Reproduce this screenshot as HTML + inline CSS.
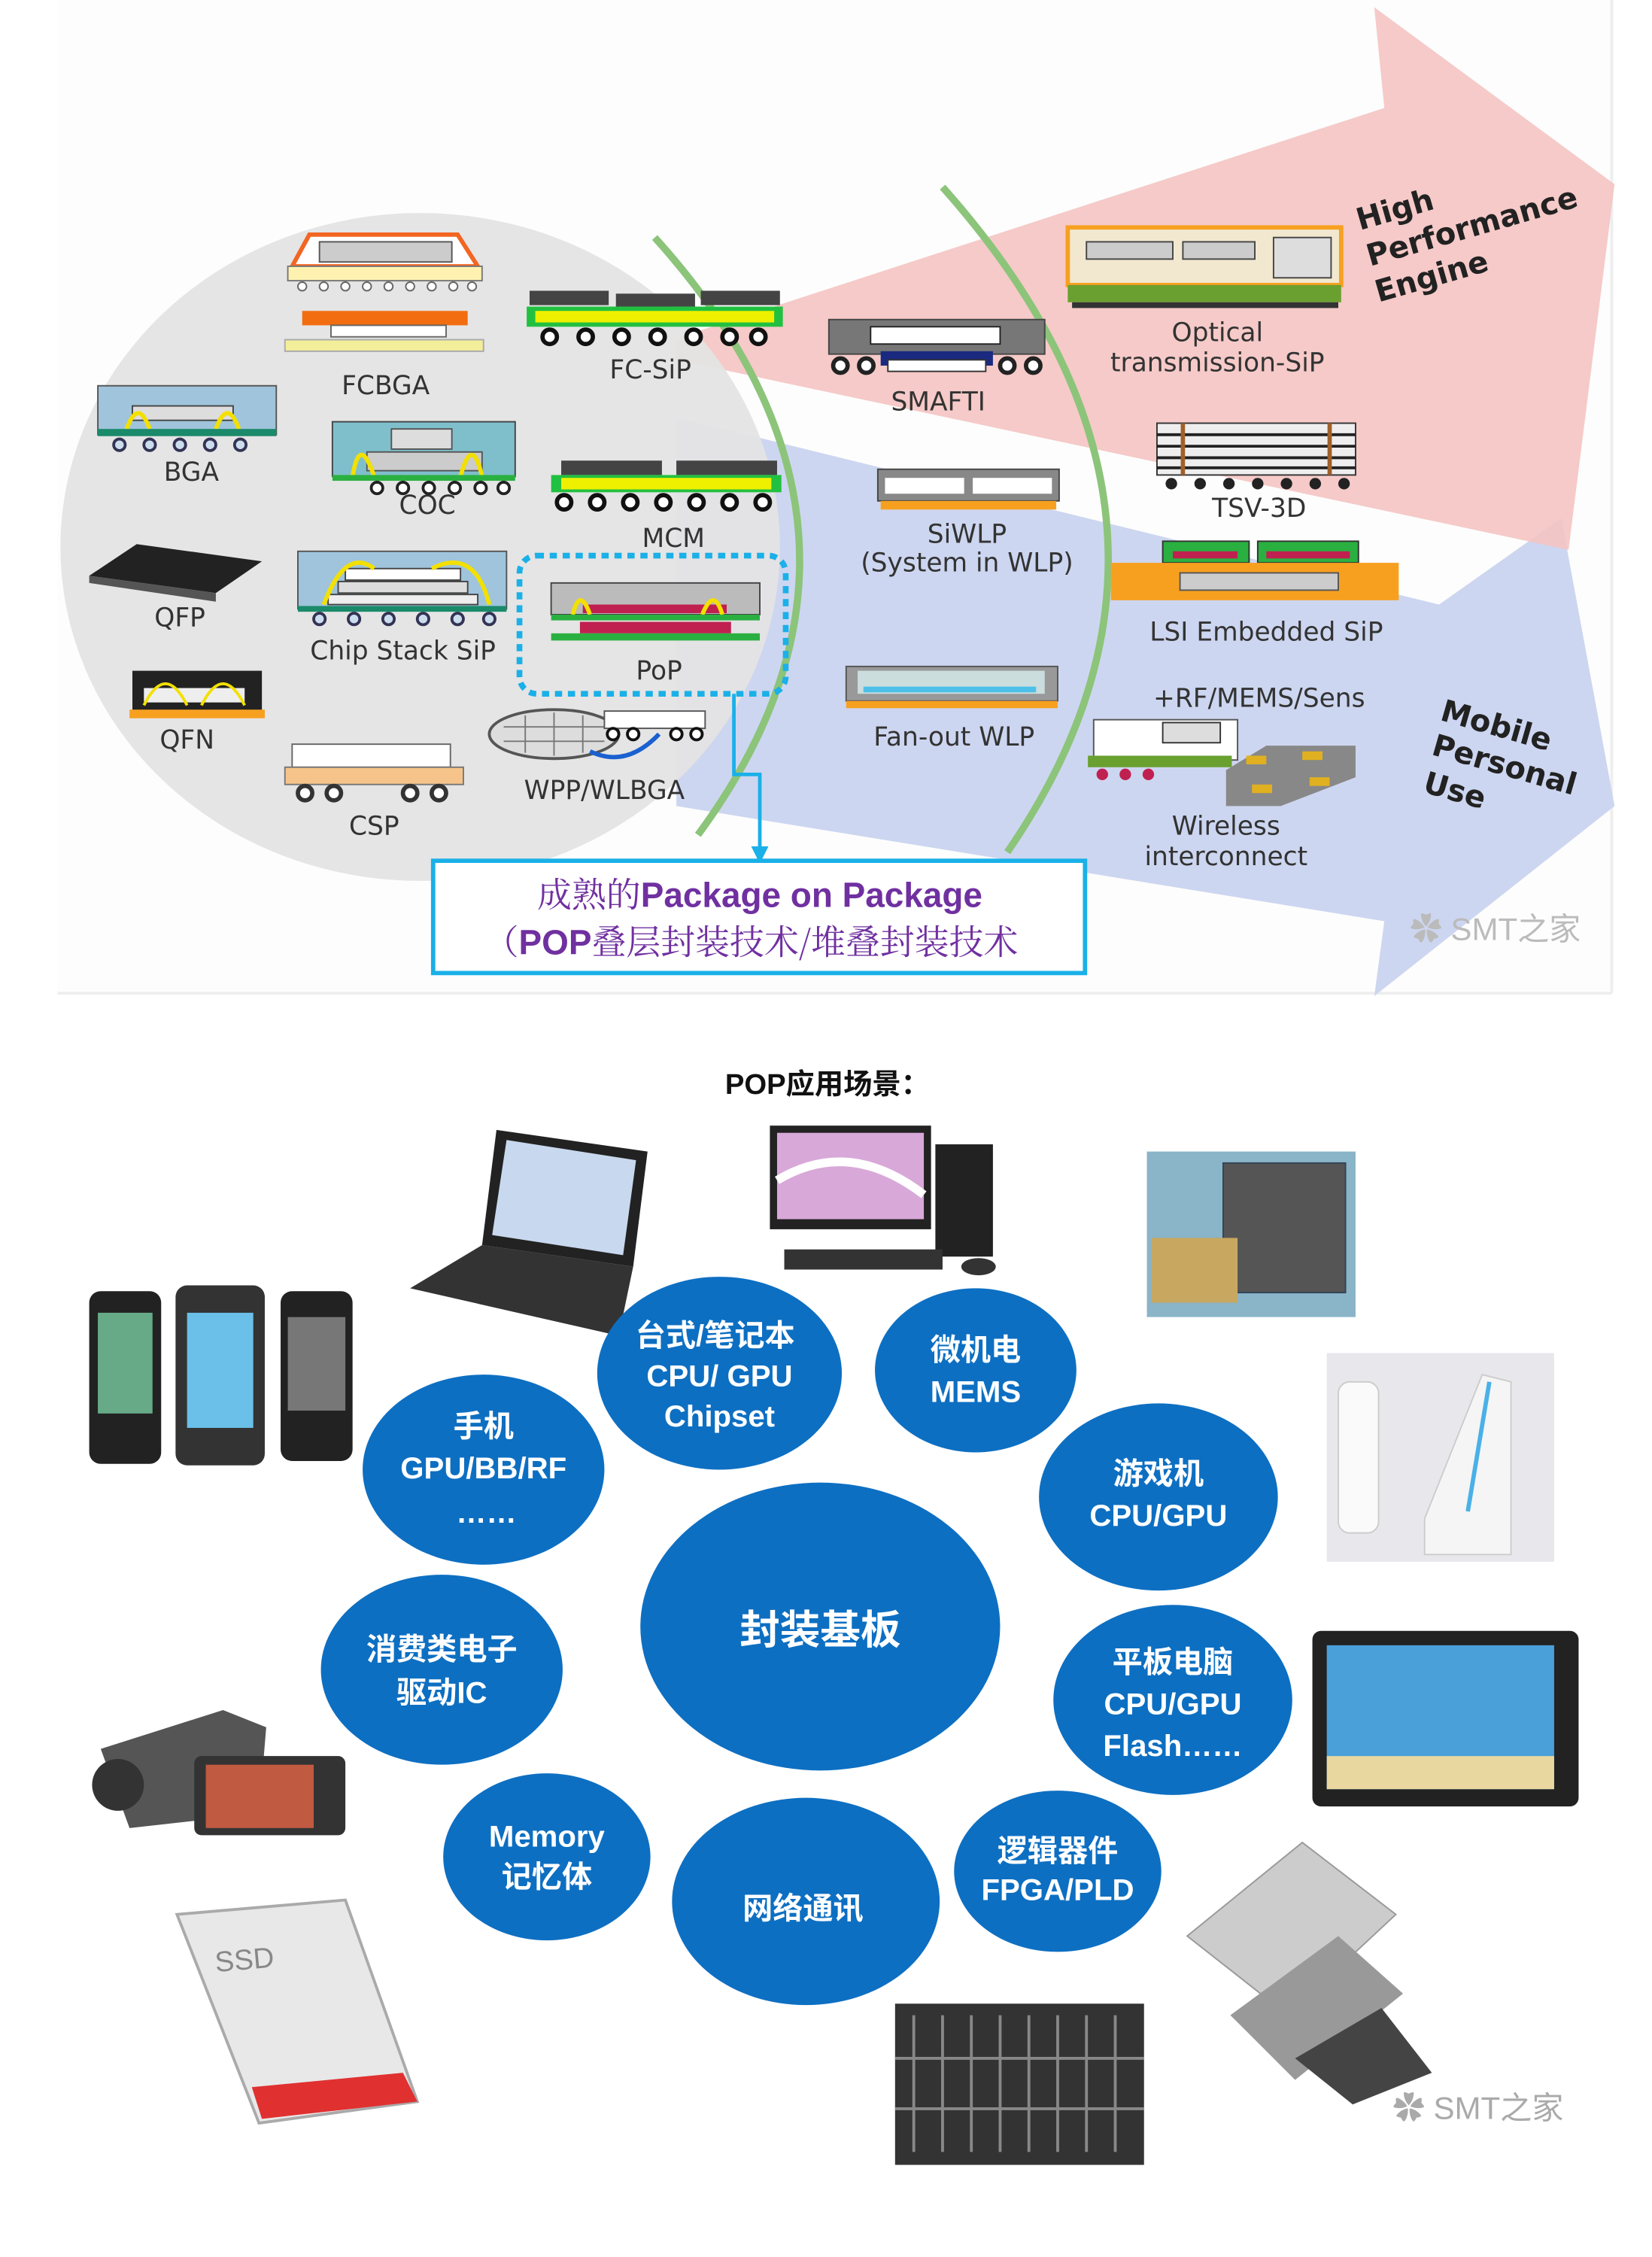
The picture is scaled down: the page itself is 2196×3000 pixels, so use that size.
<!DOCTYPE html>
<html><head><meta charset="utf-8"><style>
html,body{margin:0;padding:0;background:#fff;}
svg{display:block;}
.l{font-family:"DejaVu Sans","Liberation Sans",sans-serif;font-size:18px;fill:#333;text-anchor:middle;}
.w{font-family:"Liberation Sans","Noto Sans CJK SC",sans-serif;font-weight:bold;fill:#fff;text-anchor:middle;}
</style></head><body>
<svg width="2196" height="3000" viewBox="0 0 1148 1568" preserveAspectRatio="none" xmlns="http://www.w3.org/2000/svg">
<rect width="1148" height="1568" fill="#fff"/>
<!-- top panel -->
<rect x="40" y="0" width="1080" height="690" fill="#fdfdfd"/>
<line x1="40" y1="690" x2="1120" y2="690" stroke="#eee" stroke-width="2"/>
<line x1="1120" y1="0" x2="1120" y2="690" stroke="#eee" stroke-width="2"/>
<!-- blue arrow -->
<polygon points="470,290 1000,420 1085,360 1122,560 955,692 962,640 470,560" fill="#cdd6f0"/>
<!-- pink arrow -->
<polygon points="470,235 962,75 955,5 1122,128 1090,382 470,250" fill="#f4c4c2" opacity="0.9"/>
<!-- gray circle -->
<ellipse cx="292" cy="380" rx="250" ry="232" fill="#e4e4e4" opacity="0.95"/>
<!-- green arcs -->
<path d="M455,165 Q640,370 485,580" fill="none" stroke="#8cc47a" stroke-width="5"/>
<path d="M655,130 Q860,360 700,592" fill="none" stroke="#8cc47a" stroke-width="5"/>

<!-- FCBGA icons -->
<g>
<polygon points="203,185 215,163 318,163 332,185" fill="#fff" stroke="#f26522" stroke-width="3"/>
<rect x="222" y="168" width="92" height="14" fill="#ccc" stroke="#555"/>
<rect x="200" y="185" width="135" height="10" fill="#fff2b0" stroke="#777"/>
<g fill="#fff" stroke="#666"><circle cx="210" cy="199" r="3"/><circle cx="225" cy="199" r="3"/><circle cx="240" cy="199" r="3"/><circle cx="255" cy="199" r="3"/><circle cx="270" cy="199" r="3"/><circle cx="285" cy="199" r="3"/><circle cx="300" cy="199" r="3"/><circle cx="315" cy="199" r="3"/><circle cx="328" cy="199" r="3"/></g>
<rect x="210" y="216" width="115" height="10" fill="#f26d10"/>
<rect x="230" y="226" width="80" height="8" fill="#fff" stroke="#666"/>
<rect x="198" y="236" width="138" height="8" fill="#f3ee9a" stroke="#aaa"/>
</g>
<text class="l" x="268" y="274">FCBGA</text>
<!-- FC-SiP -->
<g>
<rect x="368" y="202" width="55" height="10" fill="#444"/><rect x="428" y="204" width="55" height="9" fill="#444"/><rect x="487" y="202" width="55" height="10" fill="#444"/>
<rect x="366" y="213" width="178" height="14" fill="#22c040"/><rect x="372" y="216" width="166" height="8" fill="#eef000"/>
<g fill="#fff" stroke="#111" stroke-width="3"><circle cx="382" cy="234" r="5"/><circle cx="407" cy="234" r="5"/><circle cx="432" cy="234" r="5"/><circle cx="457" cy="234" r="5"/><circle cx="482" cy="234" r="5"/><circle cx="507" cy="234" r="5"/><circle cx="527" cy="234" r="5"/></g>
</g>
<text class="l" x="452" y="263">FC-SiP</text>
<!-- BGA -->
<g><rect x="68" y="268" width="124" height="34" fill="#9fc4dc" stroke="#555"/><rect x="92" y="282" width="70" height="10" fill="#ddd" stroke="#444"/>
<path d="M88,298 q8,-22 16,0 M150,298 q8,-22 16,0" stroke="#f3e000" stroke-width="3" fill="none"/>
<rect x="68" y="298" width="124" height="5" fill="#1a8a6a"/>
<g fill="#cde" stroke="#335" stroke-width="2"><circle cx="83" cy="309" r="4"/><circle cx="104" cy="309" r="4"/><circle cx="125" cy="309" r="4"/><circle cx="146" cy="309" r="4"/><circle cx="167" cy="309" r="4"/></g></g>
<text class="l" x="133" y="334">BGA</text>
<!-- COC -->
<g><rect x="231" y="293" width="127" height="38" fill="#7fbfcc" stroke="#444"/><rect x="272" y="298" width="42" height="14" fill="#ddd" stroke="#555"/><rect x="255" y="314" width="80" height="13" fill="#ccc" stroke="#555"/>
<path d="M245,331 q5,-30 15,0 M320,331 q8,-30 15,0" stroke="#f3e000" stroke-width="3" fill="none"/>
<rect x="231" y="330" width="127" height="4" fill="#2ab040"/>
<g fill="#fff" stroke="#222" stroke-width="2"><circle cx="262" cy="339" r="4"/><circle cx="280" cy="339" r="4"/><circle cx="298" cy="339" r="4"/><circle cx="316" cy="339" r="4"/><circle cx="334" cy="339" r="4"/><circle cx="350" cy="339" r="4"/></g></g>
<text class="l" x="297" y="357">COC</text>
<!-- MCM -->
<g><rect x="390" y="320" width="70" height="10" fill="#444"/><rect x="470" y="320" width="70" height="10" fill="#444"/>
<rect x="383" y="330" width="160" height="12" fill="#22c040"/><rect x="390" y="332" width="146" height="8" fill="#eef000"/>
<g fill="#fff" stroke="#111" stroke-width="3"><circle cx="392" cy="349" r="5"/><circle cx="415" cy="349" r="5"/><circle cx="438" cy="349" r="5"/><circle cx="461" cy="349" r="5"/><circle cx="484" cy="349" r="5"/><circle cx="507" cy="349" r="5"/><circle cx="530" cy="349" r="5"/></g></g>
<text class="l" x="468" y="380">MCM</text>
<!-- QFP -->
<polygon points="62,400 95,378 182,390 150,412" fill="#222"/><polygon points="62,400 150,412 150,418 62,405" fill="#555"/>
<text class="l" x="125" y="435">QFP</text>
<!-- Chip stack SiP -->
<g><rect x="207" y="383" width="145" height="40" fill="#9fc4dc" stroke="#555"/><rect x="240" y="395" width="80" height="8" fill="#fff" stroke="#444"/><rect x="235" y="404" width="90" height="8" fill="#ddd" stroke="#444"/><rect x="228" y="413" width="104" height="7" fill="#eee" stroke="#444"/>
<path d="M225,420 q15,-40 35,-25 M300,395 q30,-15 40,25" stroke="#f3e000" stroke-width="3" fill="none"/>
<rect x="207" y="421" width="145" height="4" fill="#1a8a6a"/>
<g fill="#cde" stroke="#335" stroke-width="2"><circle cx="222" cy="430" r="4"/><circle cx="246" cy="430" r="4"/><circle cx="270" cy="430" r="4"/><circle cx="294" cy="430" r="4"/><circle cx="318" cy="430" r="4"/><circle cx="340" cy="430" r="4"/></g></g>
<text class="l" x="280" y="458">Chip Stack SiP</text>
<!-- PoP -->
<rect x="361" y="386" width="185" height="96" rx="12" fill="none" stroke="#1ab0e8" stroke-width="4" stroke-dasharray="5,4"/>
<g><rect x="383" y="405" width="145" height="22" fill="#bbb" stroke="#444"/><rect x="405" y="420" width="100" height="6" fill="#c02050"/>
<path d="M398,427 q5,-20 12,0 M488,427 q8,-20 14,0" stroke="#f3e000" stroke-width="3" fill="none"/>
<rect x="383" y="427" width="145" height="4" fill="#2ab040"/><rect x="403" y="432" width="105" height="8" fill="#c02050"/>
<rect x="383" y="440" width="145" height="5" fill="#2ab040"/></g>
<text class="l" x="458" y="472">PoP</text>
<!-- connector -->
<path d="M510,482 V538 H528 V592" fill="none" stroke="#1ab0e8" stroke-width="2.5"/>
<polygon points="522,588 534,588 528,600" fill="#1ab0e8"/>
<!-- QFN -->
<g><rect x="92" y="466" width="90" height="28" fill="#222"/><rect x="100" y="478" width="70" height="10" fill="#eee"/>
<path d="M100,490 q15,-30 30,0 M140,490 q15,-30 30,0" stroke="#f3e000" stroke-width="2" fill="none"/><rect x="90" y="493" width="94" height="6" fill="#f7a020"/></g>
<text class="l" x="130" y="520">QFN</text>
<!-- CSP -->
<g><rect x="203" y="517" width="110" height="16" fill="#fff" stroke="#666"/><rect x="198" y="533" width="124" height="12" fill="#f6c48a" stroke="#777"/>
<g fill="#fff" stroke="#333" stroke-width="3"><circle cx="212" cy="551" r="5"/><circle cx="232" cy="551" r="5"/><circle cx="285" cy="551" r="5"/><circle cx="305" cy="551" r="5"/></g></g>
<text class="l" x="260" y="580">CSP</text>
<!-- WPP -->
<g><ellipse cx="385" cy="510" rx="45" ry="17" fill="#ddd" stroke="#555" stroke-width="2"/>
<path d="M350,505 H420 M350,515 H420 M365,497 V523 M385,495 V525 M405,497 V523" stroke="#777"/>
<rect x="420" y="494" width="70" height="12" fill="#fff" stroke="#555"/><g fill="#fff" stroke="#111" stroke-width="2"><circle cx="426" cy="510" r="4"/><circle cx="440" cy="510" r="4"/><circle cx="470" cy="510" r="4"/><circle cx="484" cy="510" r="4"/></g>
<path d="M410,522 q25,12 48,-12" stroke="#1a60d0" stroke-width="3" fill="none"/></g>
<text class="l" x="420" y="555">WPP/WLBGA</text>
<!-- SMAFTI -->
<g><rect x="576" y="222" width="150" height="24" fill="#777" stroke="#444"/><rect x="605" y="227" width="90" height="12" fill="#fff" stroke="#222"/>
<rect x="612" y="244" width="78" height="10" fill="#1a2a80"/><rect x="617" y="250" width="68" height="8" fill="#fff" stroke="#333"/>
<g fill="#fff" stroke="#222" stroke-width="3"><circle cx="584" cy="254" r="5"/><circle cx="602" cy="254" r="5"/><circle cx="700" cy="254" r="5"/><circle cx="718" cy="254" r="5"/></g></g>
<text class="l" x="652" y="285">SMAFTI</text>
<!-- Optical -->
<g><rect x="742" y="158" width="190" height="40" fill="#f2e8d0" stroke="#f7a020" stroke-width="3"/><rect x="755" y="168" width="60" height="12" fill="#ccc" stroke="#444"/><rect x="822" y="168" width="50" height="12" fill="#ccc" stroke="#444"/><rect x="885" y="165" width="40" height="28" fill="#ddd" stroke="#444"/>
<rect x="742" y="198" width="190" height="12" fill="#6aa030"/><g fill="#333"><rect x="745" y="210" width="185" height="4"/></g></g>
<text class="l" x="846" y="237">Optical</text><text class="l" x="846" y="258">transmission-SiP</text>
<!-- TSV -->
<g><rect x="804" y="294" width="138" height="36" fill="#eee" stroke="#333"/><path d="M804,302 H942 M804,310 H942 M804,318 H942 M804,325 H942" stroke="#222" stroke-width="2"/>
<path d="M822,294 V330 M924,294 V330" stroke="#a0602a" stroke-width="3"/>
<g fill="#222"><circle cx="814" cy="336" r="4"/><circle cx="834" cy="336" r="4"/><circle cx="854" cy="336" r="4"/><circle cx="874" cy="336" r="4"/><circle cx="894" cy="336" r="4"/><circle cx="914" cy="336" r="4"/><circle cx="934" cy="336" r="4"/></g></g>
<text class="l" x="875" y="359">TSV-3D</text>
<!-- SiWLP -->
<g><rect x="610" y="326" width="126" height="22" fill="#888" stroke="#444"/><rect x="615" y="332" width="55" height="11" fill="#fff"/><rect x="676" y="332" width="55" height="11" fill="#fff"/>
<rect x="612" y="348" width="122" height="6" fill="#f7a020"/></g>
<text class="l" x="672" y="377">SiWLP</text><text class="l" x="672" y="397">(System in WLP)</text>
<!-- LSI -->
<g><rect x="808" y="376" width="60" height="15" fill="#2ab040" stroke="#333"/><rect x="874" y="376" width="70" height="15" fill="#2ab040" stroke="#333"/><rect x="815" y="383" width="45" height="5" fill="#c02050"/><rect x="880" y="383" width="58" height="5" fill="#c02050"/>
<rect x="772" y="391" width="200" height="26" fill="#f7a020"/><rect x="820" y="398" width="110" height="12" fill="#ccc" stroke="#555"/></g>
<text class="l" x="880" y="445">LSI Embedded SiP</text>
<!-- Fan-out -->
<g><rect x="588" y="463" width="147" height="24" fill="#999" stroke="#555"/><rect x="596" y="466" width="130" height="16" fill="#cdd"/><rect x="600" y="477" width="120" height="4" fill="#4cc0e8"/><rect x="588" y="487" width="147" height="5" fill="#f7a020"/></g>
<text class="l" x="663" y="518">Fan-out WLP</text>
<!-- RF -->
<text class="l" x="875" y="491">+RF/MEMS/Sens</text>
<g><rect x="760" y="500" width="100" height="28" fill="#fff" stroke="#555"/><rect x="808" y="502" width="40" height="14" fill="#ddd" stroke="#333"/>
<rect x="756" y="525" width="100" height="8" fill="#6aa030"/><g fill="#c02050"><circle cx="766" cy="538" r="4"/><circle cx="782" cy="538" r="4"/><circle cx="798" cy="538" r="4"/></g>
<polygon points="852,535 880,518 942,518 942,540 890,560 852,560" fill="#888"/><g fill="#e0b020"><rect x="866" y="525" width="14" height="6"/><rect x="905" y="522" width="14" height="6"/><rect x="870" y="545" width="14" height="6"/><rect x="910" y="540" width="14" height="6"/></g></g>
<text class="l" x="852" y="580">Wireless</text><text class="l" x="852" y="601">interconnect</text>
<!-- rotated titles -->
<text font-family="DejaVu Sans,sans-serif" font-weight="bold" font-size="21" fill="#222" transform="translate(945,160) rotate(-16)">High</text>
<text font-family="DejaVu Sans,sans-serif" font-weight="bold" font-size="21" fill="#222" transform="translate(952,185) rotate(-16)">Performance</text>
<text font-family="DejaVu Sans,sans-serif" font-weight="bold" font-size="21" fill="#222" transform="translate(958,210) rotate(-16)">Engine</text>
<text font-family="DejaVu Sans,sans-serif" font-weight="bold" font-size="21" fill="#222" transform="translate(1000,500) rotate(16)">Mobile</text>
<text font-family="DejaVu Sans,sans-serif" font-weight="bold" font-size="21" fill="#222" transform="translate(994,524) rotate(16)">Personal</text>
<text font-family="DejaVu Sans,sans-serif" font-weight="bold" font-size="21" fill="#222" transform="translate(988,550) rotate(16)">Use</text>
<!-- box -->
<rect x="301" y="598" width="453" height="78" fill="#fff" stroke="#1ab0e8" stroke-width="3"/>
<text x="528" y="630" text-anchor="middle" font-size="24" fill="#7030a0" font-family="'Liberation Sans','Noto Serif CJK SC',serif"><tspan font-family="'Noto Serif CJK SC',serif">成熟的</tspan><tspan font-weight="bold">Package on Package</tspan></text>
<text x="522" y="663" text-anchor="middle" font-size="24" fill="#7030a0" font-family="'Noto Serif CJK SC',serif">（<tspan font-family="'Liberation Sans',sans-serif" font-weight="bold">POP</tspan>叠层封装技术/堆叠封装技术</text>
<text x="980" y="653" font-size="22" fill="#bbb" font-family="'Liberation Sans','Noto Sans CJK SC',sans-serif">✿ SMT之家</text>

<!-- bottom -->
<text x="575" y="760" text-anchor="middle" font-size="20" font-weight="bold" fill="#111" font-family="'Liberation Sans','Noto Sans CJK SC',sans-serif">POP应用场景：</text>
<!-- pictures -->
<g>
<polygon points="345,785 450,800 440,880 335,865" fill="#222"/><polygon points="352,792 442,806 433,872 342,858" fill="#c8d8ee"/>
<polygon points="335,865 440,880 430,928 285,895" fill="#333"/>
<rect x="535" y="782" width="112" height="72" fill="#222"/><rect x="540" y="787" width="102" height="60" fill="#d8a8d8"/><path d="M540,820 q50,-30 102,10" stroke="#fff" stroke-width="6" fill="none"/>
<rect x="650" y="795" width="40" height="78" fill="#222"/><rect x="545" y="868" width="110" height="14" fill="#333"/><ellipse cx="680" cy="880" rx="12" ry="6" fill="#333"/>
<rect x="797" y="800" width="145" height="115" fill="#8ab4c8"/><rect x="850" y="808" width="85" height="90" fill="#555" stroke="#345"/><rect x="800" y="860" width="60" height="45" fill="#c8a860"/>
<rect x="62" y="897" width="50" height="120" rx="8" fill="#222"/><rect x="68" y="912" width="38" height="70" fill="#6a8"/>
<rect x="122" y="893" width="62" height="125" rx="8" fill="#333"/><rect x="130" y="912" width="46" height="80" fill="#6ac0e8"/>
<rect x="195" y="897" width="50" height="118" rx="8" fill="#222"/><rect x="200" y="915" width="40" height="65" fill="#777"/>
<rect x="922" y="940" width="158" height="145" fill="#e8e8ec"/><rect x="930" y="960" width="28" height="105" rx="8" fill="#fafafa" stroke="#ccc"/><polygon points="990,1055 1030,955 1050,960 1050,1080 990,1080" fill="#f5f5f5" stroke="#ccc"/><line x1="1035" y1="960" x2="1020" y2="1050" stroke="#4ab0e8" stroke-width="3"/>
<polygon points="70,1215 155,1188 185,1200 180,1260 90,1270" fill="#555"/><circle cx="82" cy="1240" r="18" fill="#333"/><rect x="135" y="1220" width="105" height="55" rx="5" fill="#333"/><rect x="143" y="1226" width="75" height="44" fill="#c05a40"/>
<rect x="912" y="1133" width="185" height="122" rx="6" fill="#222"/><rect x="922" y="1143" width="158" height="100" fill="#4aa0d8"/><rect x="922" y="1220" width="158" height="23" fill="#e8d8a0"/>
<polygon points="123,1330 240,1320 290,1460 180,1475" fill="#e8e8e8" stroke="#aaa" stroke-width="2"/><polygon points="175,1450 280,1440 290,1460 182,1472" fill="#e03030"/>
<text x="150" y="1370" font-size="20" fill="#888" font-family="Liberation Sans,sans-serif" transform="rotate(-5 150 1370)">SSD</text>
<rect x="622" y="1392" width="173" height="112" fill="#333"/><g stroke="#888" stroke-width="2"><path d="M635,1400 V1495 M655,1400 V1495 M675,1400 V1495 M695,1400 V1495 M715,1400 V1495 M735,1400 V1495 M755,1400 V1495 M775,1400 V1495 M622,1430 H795 M622,1465 H795"/></g>
<polygon points="825,1345 905,1280 970,1330 895,1400" fill="#ccc" stroke="#999"/><polygon points="855,1400 930,1345 975,1385 900,1445" fill="#999"/><polygon points="900,1430 960,1395 995,1440 940,1462" fill="#444"/>
</g>
<!-- circles -->
<g fill="#0d6fc2">
<ellipse cx="500" cy="954" rx="85" ry="67"/>
<ellipse cx="678" cy="952" rx="70" ry="57"/>
<ellipse cx="336" cy="1021" rx="84" ry="66"/>
<ellipse cx="805" cy="1040" rx="83" ry="65"/>
<ellipse cx="570" cy="1130" rx="125" ry="100"/>
<ellipse cx="307" cy="1160" rx="84" ry="66"/>
<ellipse cx="815" cy="1181" rx="83" ry="66"/>
<ellipse cx="380" cy="1290" rx="72" ry="58"/>
<ellipse cx="560" cy="1321" rx="93" ry="72"/>
<ellipse cx="735" cy="1300" rx="72" ry="56"/>
</g>
<g class="w" font-size="21">
<text class="w" x="497" y="935">台式/笔记本</text><text class="w" x="500" y="963">CPU/ GPU</text><text class="w" x="500" y="991">Chipset</text>
<text class="w" x="678" y="945">微机电</text><text class="w" x="678" y="974">MEMS</text>
<text class="w" x="336" y="998">手机</text><text class="w" x="336" y="1027">GPU/BB/RF</text><text class="w" x="338" y="1058">……</text>
<text class="w" x="805" y="1031">游戏机</text><text class="w" x="805" y="1060">CPU/GPU</text>
<text class="w" x="570" y="1142" font-size="28">封装基板</text>
<text class="w" x="307" y="1153">消费类电子</text><text class="w" x="307" y="1183">驱动IC</text>
<text class="w" x="815" y="1162">平板电脑</text><text class="w" x="815" y="1191">CPU/GPU</text><text class="w" x="815" y="1220">Flash……</text>
<text class="w" x="380" y="1283">Memory</text><text class="w" x="380" y="1311">记忆体</text>
<text class="w" x="558" y="1333">网络通讯</text>
<text class="w" x="735" y="1293">逻辑器件</text><text class="w" x="735" y="1320">FPGA/PLD</text>
</g>
<text x="968" y="1472" font-size="22" fill="#aaa" font-family="'Liberation Sans','Noto Sans CJK SC',sans-serif">✿ SMT之家</text>
</svg>
</body></html>
